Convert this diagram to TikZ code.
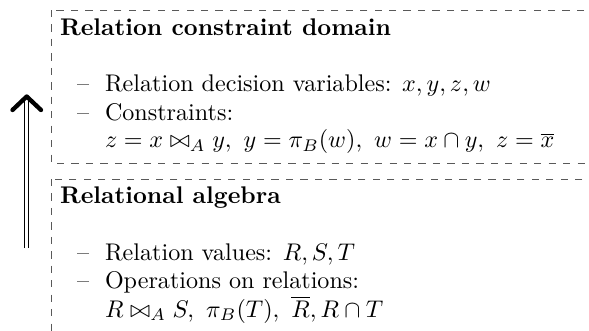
\documentclass[tikz,border=0pt]{standalone}
\usepackage{amsmath,amssymb}
\begin{document}
\begin{tikzpicture}[x=0.415pt,y=-0.415pt,
  panel/.style={draw=black!65, dashed, line width=0.4pt},
  txt/.style={anchor=base west, inner sep=0pt, outer sep=0pt},
  shaft/.style={double, double distance=1.3pt, line width=0.5pt},
  chevron/.style={line width=1.8pt, line cap=round, line join=round}]
\clip (0,0) rectangle (589,331);
\draw[panel] (51,10) rectangle (620,163);
\draw[panel] (51,179) rectangle (620,360);
% top panel
\node[txt] (t1) at (60,35) {\textbf{Relation constraint domain}};
\node[txt] (t1a) at (77,92) {\textendash};
\node[txt] (t1b) at (105,92) {Relation decision variables: $x, y, z, w$};
\node[txt] (t1c) at (77,120) {\textendash};
\node[txt] (t1d) at (105,120) {Constraints:};
\node[txt] (t1e) at (105,148) {$z = x \bowtie_A y,\ y = \pi_B(w),\ w = x \cap y,\ z = \overline{x}$};
% bottom panel
\node[txt] (t2) at (60,203) {\textbf{Relational algebra}};
\node[txt] (t2a) at (77,260) {\textendash};
\node[txt] (t2b) at (105,260) {Relation values: $R, S, T$};
\node[txt] (t2c) at (77,288) {\textendash};
\node[txt] (t2d) at (105,288) {Operations on relations:};
\node[txt] (t2e) at (105,317) {$R \bowtie_A S,\ \pi_B(T),\ \overline{R}, R \cap T$};
% arrow
\coordinate (abot) at (26.5,248);
\coordinate (atop) at (26.5,100);
\coordinate (tip) at (26.7,96.5);
\coordinate (armL) at (12.5,110);
\coordinate (armR) at (41,110);
\draw[shaft] (abot) -- (atop);
\draw[chevron] (armL) -- (tip) -- (armR);
\end{tikzpicture}
\end{document}
